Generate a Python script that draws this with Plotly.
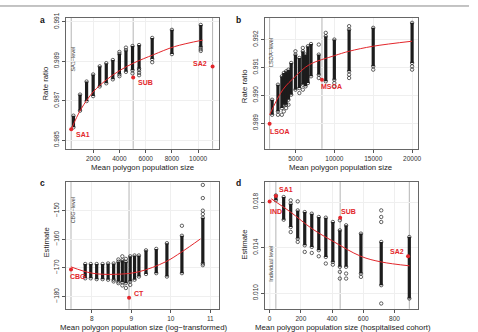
import plotly.graph_objects as go

W, H = 478, 332
RED = "#e3262b"

# ---------------- Panel a ----------------
A_X = [500, 1000, 1500, 2000, 2500, 3000, 3500, 4000, 4500, 5000, 5500, 6500, 8000, 10200]
A_LO = [0.98565, 0.98649, 0.98698, 0.98723, 0.98772, 0.98788, 0.98808, 0.98834, 0.98846, 0.98854, 0.98862, 0.98911, 0.98936, 0.98972]
A_HI = [0.98624, 0.98731, 0.98797, 0.98833, 0.98874, 0.98890, 0.98906, 0.98936, 0.98956, 0.98977, 0.98982, 0.99018, 0.99059, 0.99084]
A_OUT = [[], [], [], [], [], [], [], [0.98947, 0.98824], [0.98969], [0.98838], [0.98854, 0.98841, 0.98829],
         [0.98895], [], [0.98961, 0.98952]]
A_FIT_X = [330, 1075, 2000, 3000, 4050, 5125, 6600, 8200, 10350]
A_FIT_Y = [0.98555, 0.98657, 0.98744, 0.98805, 0.98854, 0.98892, 0.98933, 0.98974, 0.99007]
A_PT_X = [330, 5050, 11100]
A_PT_Y = [0.98555, 0.98817, 0.98873]
A_PT_LBL = ["SA1", "SUB", "SA2"]
A_XTICKS = [2000, 4000, 6000, 8000, 10000]
A_YTICKS = [0.985, 0.987, 0.989, 0.991]

# ---------------- Panel b ----------------
B_X = [2000, 2750, 3250, 3500, 3800, 4100, 4450, 5000, 5500, 5950, 6300, 6600, 7000, 8000, 8900, 10000, 11900, 15000, 20000]
B_LO = [0.98930, 0.98942, 0.98954, 0.98966, 0.98966, 0.98984, 0.99002, 0.99020, 0.99026, 0.99038, 0.99032, 0.99044,
        0.99068, 0.99074, 0.99050, 0.99056, 0.99086, 0.99104, 0.99116]
B_HI = [0.98984, 0.99038, 0.99068, 0.99080, 0.99086, 0.99092, 0.99116, 0.99146, 0.99134, 0.99158, 0.99146, 0.99176,
        0.99184, 0.99146, 0.99212, 0.99200, 0.99236, 0.99242, 0.99260]
B_OUT = [[], [0.98930], [0.98930], [0.98942], [0.98954], [0.98966], [], [0.99158], [0.99008], [0.99170, 0.99020], [],
         [], [], [0.99182, 0.99062], [0.99224], [0.99044, 0.99032], [0.99248, 0.99074, 0.99062], [0.99092],
         [0.99104, 0.99092]]
B_FIT_X = [1675, 3380, 5000, 6790, 10000, 11900, 15000, 20000]
B_FIT_Y = [0.98930, 0.99020, 0.99068, 0.99110, 0.99142, 0.99158, 0.99176, 0.99194]
B_PT_X = [1675, 8410]
B_PT_Y = [0.98898, 0.99056]
B_PT_LBL = ["LSOA", "MSOA"]
B_XTICKS = [5000, 10000, 15000, 20000]
B_YTICKS = [0.989, 0.990, 0.991, 0.992]

# ---------------- Panel c ----------------
C_X = [7.83, 7.97, 8.12, 8.27, 8.41, 8.55, 8.67, 8.77, 8.86, 8.97, 9.08, 9.19, 9.37, 9.63, 9.90, 10.28, 10.81]
C_LO = [-173.7, -173.7, -174.0, -174.0, -174.2, -174.2, -174.8, -175.1, -175.4, -174.8, -174.2, -173.1, -172.2,
        -171.9, -173.1, -171.9, -168.5]
C_HI = [-168.7, -168.7, -168.7, -168.7, -168.5, -168.5, -167.9, -167.4, -167.9, -166.0, -165.7, -165.7, -163.9,
        -163.4, -161.4, -158.8, -152.5]
C_OUT = [[], [], [], [], [], [-174.8], [-167.1, -175.4], [-166.0, -176.2], [-166.9, -177.1], [-176.0], [], [], [],
         [], [], [-155.3], [-141.0, -145.6, -150.0, -151.2, -169.1]]
C_FIT_X = [7.47, 8.0, 8.6, 9.19, 9.87, 10.27, 10.75]
C_FIT_Y = [-169.7, -171.9, -172.3, -171.4, -167.9, -164.5, -159.9]
C_PT_X = [7.47, 8.94]
C_PT_Y = [-170.6, -180.5]
C_PT_LBL = ["CBG", "CT"]
C_XTICKS = [8, 9, 10, 11]
C_YTICKS = [-180, -170, -160, -150]

# ---------------- Panel d ----------------
D_X = [40, 90, 135, 180, 225, 270, 315, 360, 405, 450, 490, 585, 715, 895]
D_LO = [0.01815, 0.01645, 0.01581, 0.01479, 0.01420, 0.01406, 0.01377, 0.01318, 0.01274, 0.01231, 0.01231, 0.01172,
        0.01070, 0.00953]
D_HI = [0.01858, 0.01844, 0.01785, 0.01727, 0.01712, 0.01698, 0.01669, 0.01663, 0.01625, 0.01552, 0.01596, 0.01523,
        0.01450, 0.01493]
D_OUT = [[], [], [0.01815, 0.01537], [0.01806, 0.01450], [0.01362], [0.01353], [0.01324], [0.01260], [0.01250],
         [0.01640, 0.01187, 0.01128], [0.01172, 0.01128], [0.01143], [0.01727, 0.01669, 0.01625, 0.00909], []]
D_FIT_X = [10, 134, 272, 403, 584, 715, 896]
D_FIT_Y = [0.01829, 0.01712, 0.01566, 0.01458, 0.01324, 0.01274, 0.01240]
D_PT_X = [0, 40, 452, 887]
D_PT_Y = [0.01806, 0.01853, 0.01663, 0.01324]
D_PT_LBL = ["IND", "SA1", "SUB", "SA2"]
D_XTICKS = [0, 200, 400, 600, 800]
D_YTICKS = [0.010, 0.014, 0.018]


def xd(px):
    return px / W


def yd(py):
    return 1 - py / H


fig = go.Figure()

panels = [
    dict(X=A_X, LO=A_LO, HI=A_HI, OUT=A_OUT, FX=A_FIT_X, FY=A_FIT_Y, PX=A_PT_X, PY=A_PT_Y, XT=A_XTICKS, YT=A_YTICKS,
         xdom=(66, 220), ydom=(13, 146), xr=(-100, 11560), yr=(0.98456, 0.99120), levels=A_PT_X,
         ytickfmt=".3f", letter="a", levtxt="SA1−level", levx=330),
    dict(X=B_X, LO=B_LO, HI=B_HI, OUT=B_OUT, FX=B_FIT_X, FY=B_FIT_Y, PX=B_PT_X, PY=B_PT_Y, XT=B_XTICKS, YT=B_YTICKS,
         xdom=(266.3, 420.7), ydom=(13, 146), xr=(1036, 20767), yr=(0.98808, 0.99278), levels=B_PT_X,
         ytickfmt=".3f", letter="b", levtxt="LSOA−level", levx=1675),
    dict(X=C_X, LO=C_LO, HI=C_HI, OUT=C_OUT, FX=C_FIT_X, FY=C_FIT_Y, PX=C_PT_X, PY=C_PT_Y, XT=C_XTICKS, YT=C_YTICKS,
         xdom=(66.5, 220), ydom=(179.5, 308.5), xr=(7.345, 11.21), yr=(-184.4, -139.9), levels=C_PT_X,
         ytickfmt="d", letter="c", levtxt="CBG−level", levx=7.47),
    dict(X=D_X, LO=D_LO, HI=D_HI, OUT=D_OUT, FX=D_FIT_X, FY=D_FIT_Y, PX=D_PT_X, PY=D_PT_Y, XT=D_XTICKS, YT=D_YTICKS,
         xdom=(266.3, 420.7), ydom=(179.5, 308.5), xr=(-32, 951), yr=(0.00862, 0.01978), levels=[0, 40, 452, 895],
         ytickfmt=".3f", letter="d", levtxt="Individual level", levx=0),
]

label_offsets = {
    "a": [("left", 3, -5), ("left", 3, -5), ("right", -4, 3.5)],
    "b": [("left", -2, -8), ("left", -3, -7)],
    "c": [("left", -3, -7), ("left", 3, 4)],
    "d": [("left", -2, -10), ("left", 1, 7), ("left", -1, 6), ("right", -2, 4.5)],
}
pt_labels = {"a": A_PT_LBL, "b": B_PT_LBL, "c": C_PT_LBL, "d": D_PT_LBL}

shapes = []
annotations = []
tickfont = dict(family="Liberation Sans, Arial", size=6.5, color="#333")

for i, p in enumerate(panels):
    n = i + 1
    xa = "x" if n == 1 else f"x{n}"
    ya = "y" if n == 1 else f"y{n}"
    xkey = "xaxis" if n == 1 else f"xaxis{n}"
    ykey = "yaxis" if n == 1 else f"yaxis{n}"

    for lx in p["levels"]:
        shapes.append(dict(type="line", xref=xa, yref=f"{ya} domain", x0=lx, x1=lx, y0=0, y1=1,
                           line=dict(color="#b5b5b5", width=1), layer="below"))

    dx, dy = [], []
    for x, lo, hi in zip(p["X"], p["LO"], p["HI"]):
        dx += [x, x, None]
        dy += [lo, hi, None]
    fig.add_trace(go.Scatter(x=dx, y=dy, mode="lines", line=dict(color="#1c1c1c", width=3.2),
                             xaxis=xa, yaxis=ya, showlegend=False, hoverinfo="skip"))
    cx, cy = [], []
    for x, lo, hi, outs in zip(p["X"], p["LO"], p["HI"], p["OUT"]):
        cx += [x, x] + [x] * len(outs)
        cy += [lo, hi] + list(outs)
    fig.add_trace(go.Scatter(x=cx, y=cy, mode="markers",
                             marker=dict(symbol="circle-open", size=3.4, color="#222", line=dict(width=0.7)),
                             xaxis=xa, yaxis=ya, showlegend=False, hoverinfo="skip"))
    fig.add_trace(go.Scatter(x=p["FX"], y=p["FY"], mode="lines", line=dict(color=RED, width=1, shape="spline"),
                             xaxis=xa, yaxis=ya, showlegend=False, hoverinfo="skip"))
    fig.add_trace(go.Scatter(x=p["PX"], y=p["PY"], mode="markers", marker=dict(color=RED, size=4),
                             xaxis=xa, yaxis=ya, showlegend=False, hoverinfo="skip"))

    letter = p["letter"]
    for (anc, xs, ys), lbl, px_, py_ in zip(label_offsets[letter], pt_labels[letter], p["PX"], p["PY"]):
        annotations.append(dict(x=px_, y=py_, xref=xa, yref=ya, text=f"<b>{lbl}</b>", showarrow=False,
                                xanchor=anc, yanchor="middle", xshift=xs, yshift=ys,
                                font=dict(family="Liberation Sans, Arial", size=7, color=RED)))

    lev_py = {"a": 40, "b": 32, "c": 209, "d": 283}[letter]
    annotations.append(dict(x=p["levx"], y=yd(lev_py), xref=xa, yref="paper", text=p["levtxt"], showarrow=False,
                            textangle=-90, xshift=1.5, font=dict(family="Liberation Sans, Arial", size=5.5,
                                                                  color="#444")))

    fig.layout[xkey] = dict(domain=[xd(p["xdom"][0]), xd(p["xdom"][1])], range=list(p["xr"]), anchor=ya,
                            tickvals=p["XT"], ticktext=[str(t) for t in p["XT"]], ticks="outside", ticklen=3,
                            tickcolor="#555", showline=True, mirror=True, linecolor="#666", linewidth=1,
                            showgrid=True, gridcolor="#efefef", gridwidth=1, zeroline=False, tickfont=tickfont)
    yt_text = [f"{t:.3f}" if p["ytickfmt"] == ".3f" else str(int(t)).replace("-", "−") for t in p["YT"]]
    fig.layout[ykey] = dict(domain=[yd(p["ydom"][1]), yd(p["ydom"][0])], range=list(p["yr"]), anchor=xa,
                            tickvals=p["YT"], ticktext=yt_text, tickangle=-90, ticks="outside", ticklen=3,
                            tickcolor="#555", showline=True, mirror=True, linecolor="#666", linewidth=1,
                            showgrid=True, gridcolor="#efefef", gridwidth=1, zeroline=False, tickfont=tickfont)

title_font = dict(family="Liberation Sans, Arial", size=7.8, color="#222")
for txt, x, y, ang in [
    ("Rate ratio", 46, 80, -90), ("Rate ratio", 246, 82, -90),
    ("Estimate", 46.5, 241, -90), ("Estimate", 246, 243, -90),
    ("Mean polygon population size", 143, 165, 0), ("Mean polygon population size", 343, 165, 0),
    ("Mean polygon population size (log−transformed)", 144, 327.5, 0),
    ("Mean polygon population size (hospitalised cohort)", 345, 327.5, 0),
]:
    annotations.append(dict(x=xd(x), y=yd(y), xref="paper", yref="paper", text=txt, showarrow=False,
                            textangle=ang, xanchor="center", yanchor="middle", font=title_font))

for txt, x, y in [("a", 43, 15), ("b", 240, 15), ("c", 43, 181), ("d", 240, 181)]:
    annotations.append(dict(x=xd(x), y=yd(y), xref="paper", yref="paper", text=f"<b>{txt}</b>", showarrow=False,
                            xanchor="center", yanchor="middle",
                            font=dict(family="Liberation Sans, Arial", size=8.5, color="#111")))

shapes.append(dict(type="line", xref="paper", yref="paper", x0=0, x1=xd(472), y0=yd(1), y1=yd(1),
                   line=dict(color="#888", width=1)))

fig.update_layout(width=W, height=H, margin=dict(l=0, r=0, t=0, b=0), paper_bgcolor="white",
                  plot_bgcolor="white", shapes=shapes, annotations=annotations, showlegend=False)

fig.write_html("out.html")
